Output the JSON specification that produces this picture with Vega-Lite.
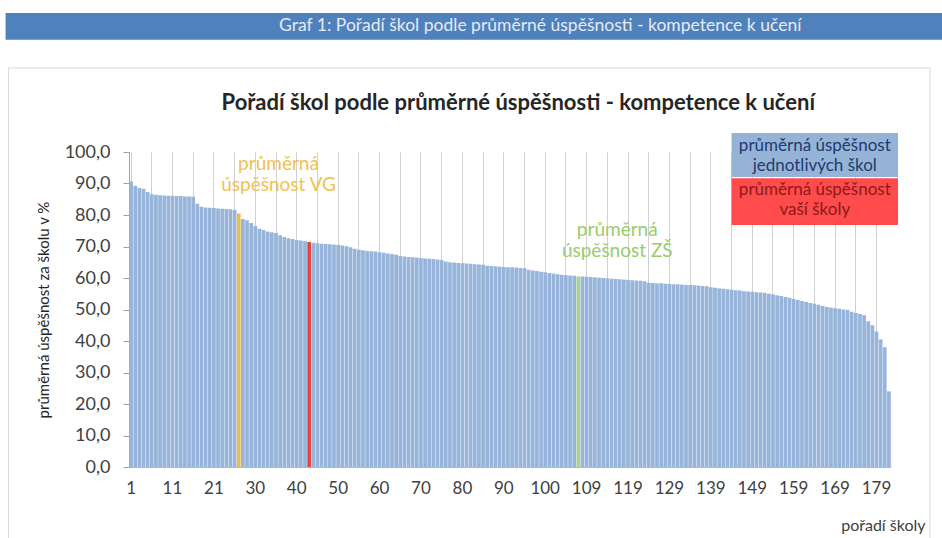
{
  "$schema": "https://vega.github.io/schema/vega-lite/v6.json",
  "width": 762,
  "height": 315,
  "autosize": {"type": "none"},
  "padding": {"left": 129, "top": 152, "right": 51, "bottom": 71},
  "background": "white",
  "config": {"view": {"stroke": null}, "font": "Lato", "text": {"font": "Lato"}},
  "datasets": {
    "skoly": [
      {"poradi": "1", "uspesnost": 90.6, "typ": "škola"},
      {"poradi": "2", "uspesnost": 89.3, "typ": "škola"},
      {"poradi": "3", "uspesnost": 88.6, "typ": "škola"},
      {"poradi": "4", "uspesnost": 88.3, "typ": "škola"},
      {"poradi": "5", "uspesnost": 87.3, "typ": "škola"},
      {"poradi": "6", "uspesnost": 86.6, "typ": "škola"},
      {"poradi": "7", "uspesnost": 86.4, "typ": "škola"},
      {"poradi": "8", "uspesnost": 86.3, "typ": "škola"},
      {"poradi": "9", "uspesnost": 86.2, "typ": "škola"},
      {"poradi": "10", "uspesnost": 86.1, "typ": "škola"},
      {"poradi": "11", "uspesnost": 86.1, "typ": "škola"},
      {"poradi": "12", "uspesnost": 86.0, "typ": "škola"},
      {"poradi": "13", "uspesnost": 86.0, "typ": "škola"},
      {"poradi": "14", "uspesnost": 85.9, "typ": "škola"},
      {"poradi": "15", "uspesnost": 85.9, "typ": "škola"},
      {"poradi": "16", "uspesnost": 85.8, "typ": "škola"},
      {"poradi": "17", "uspesnost": 83.6, "typ": "škola"},
      {"poradi": "18", "uspesnost": 82.6, "typ": "škola"},
      {"poradi": "19", "uspesnost": 82.4, "typ": "škola"},
      {"poradi": "20", "uspesnost": 82.3, "typ": "škola"},
      {"poradi": "21", "uspesnost": 82.2, "typ": "škola"},
      {"poradi": "22", "uspesnost": 82.1, "typ": "škola"},
      {"poradi": "23", "uspesnost": 82.0, "typ": "škola"},
      {"poradi": "24", "uspesnost": 81.9, "typ": "škola"},
      {"poradi": "25", "uspesnost": 81.8, "typ": "škola"},
      {"poradi": "26", "uspesnost": 81.6, "typ": "škola"},
      {"poradi": "VG", "uspesnost": 80.5, "typ": "VG"},
      {"poradi": "27", "uspesnost": 78.7, "typ": "škola"},
      {"poradi": "28", "uspesnost": 78.3, "typ": "škola"},
      {"poradi": "29", "uspesnost": 77.5, "typ": "škola"},
      {"poradi": "30", "uspesnost": 76.5, "typ": "škola"},
      {"poradi": "31", "uspesnost": 75.6, "typ": "škola"},
      {"poradi": "32", "uspesnost": 75.2, "typ": "škola"},
      {"poradi": "33", "uspesnost": 74.8, "typ": "škola"},
      {"poradi": "34", "uspesnost": 74.5, "typ": "škola"},
      {"poradi": "35", "uspesnost": 74.3, "typ": "škola"},
      {"poradi": "36", "uspesnost": 73.6, "typ": "škola"},
      {"poradi": "37", "uspesnost": 73.0, "typ": "škola"},
      {"poradi": "38", "uspesnost": 72.6, "typ": "škola"},
      {"poradi": "39", "uspesnost": 72.4, "typ": "škola"},
      {"poradi": "40", "uspesnost": 72.1, "typ": "škola"},
      {"poradi": "41", "uspesnost": 71.9, "typ": "škola"},
      {"poradi": "42", "uspesnost": 71.7, "typ": "škola"},
      {"poradi": "43", "uspesnost": 71.4, "typ": "vaše škola"},
      {"poradi": "44", "uspesnost": 71.2, "typ": "škola"},
      {"poradi": "45", "uspesnost": 71.0, "typ": "škola"},
      {"poradi": "46", "uspesnost": 70.9, "typ": "škola"},
      {"poradi": "47", "uspesnost": 70.8, "typ": "škola"},
      {"poradi": "48", "uspesnost": 70.7, "typ": "škola"},
      {"poradi": "49", "uspesnost": 70.6, "typ": "škola"},
      {"poradi": "50", "uspesnost": 70.5, "typ": "škola"},
      {"poradi": "51", "uspesnost": 70.3, "typ": "škola"},
      {"poradi": "52", "uspesnost": 70.1, "typ": "škola"},
      {"poradi": "53", "uspesnost": 69.8, "typ": "škola"},
      {"poradi": "54", "uspesnost": 69.3, "typ": "škola"},
      {"poradi": "55", "uspesnost": 69.0, "typ": "škola"},
      {"poradi": "56", "uspesnost": 68.8, "typ": "škola"},
      {"poradi": "57", "uspesnost": 68.6, "typ": "škola"},
      {"poradi": "58", "uspesnost": 68.5, "typ": "škola"},
      {"poradi": "59", "uspesnost": 68.4, "typ": "škola"},
      {"poradi": "60", "uspesnost": 68.2, "typ": "škola"},
      {"poradi": "61", "uspesnost": 68.0, "typ": "škola"},
      {"poradi": "62", "uspesnost": 67.8, "typ": "škola"},
      {"poradi": "63", "uspesnost": 67.6, "typ": "škola"},
      {"poradi": "64", "uspesnost": 67.4, "typ": "škola"},
      {"poradi": "65", "uspesnost": 67.0, "typ": "škola"},
      {"poradi": "66", "uspesnost": 66.8, "typ": "škola"},
      {"poradi": "67", "uspesnost": 66.7, "typ": "škola"},
      {"poradi": "68", "uspesnost": 66.6, "typ": "škola"},
      {"poradi": "69", "uspesnost": 66.5, "typ": "škola"},
      {"poradi": "70", "uspesnost": 66.3, "typ": "škola"},
      {"poradi": "71", "uspesnost": 66.2, "typ": "škola"},
      {"poradi": "72", "uspesnost": 66.1, "typ": "škola"},
      {"poradi": "73", "uspesnost": 66.0, "typ": "škola"},
      {"poradi": "74", "uspesnost": 65.9, "typ": "škola"},
      {"poradi": "75", "uspesnost": 65.7, "typ": "škola"},
      {"poradi": "76", "uspesnost": 65.2, "typ": "škola"},
      {"poradi": "77", "uspesnost": 65.0, "typ": "škola"},
      {"poradi": "78", "uspesnost": 64.9, "typ": "škola"},
      {"poradi": "79", "uspesnost": 64.8, "typ": "škola"},
      {"poradi": "80", "uspesnost": 64.7, "typ": "škola"},
      {"poradi": "81", "uspesnost": 64.6, "typ": "škola"},
      {"poradi": "82", "uspesnost": 64.5, "typ": "škola"},
      {"poradi": "83", "uspesnost": 64.4, "typ": "škola"},
      {"poradi": "84", "uspesnost": 64.3, "typ": "škola"},
      {"poradi": "85", "uspesnost": 64.2, "typ": "škola"},
      {"poradi": "86", "uspesnost": 63.9, "typ": "škola"},
      {"poradi": "87", "uspesnost": 63.8, "typ": "škola"},
      {"poradi": "88", "uspesnost": 63.7, "typ": "škola"},
      {"poradi": "89", "uspesnost": 63.6, "typ": "škola"},
      {"poradi": "90", "uspesnost": 63.5, "typ": "škola"},
      {"poradi": "91", "uspesnost": 63.4, "typ": "škola"},
      {"poradi": "92", "uspesnost": 63.4, "typ": "škola"},
      {"poradi": "93", "uspesnost": 63.3, "typ": "škola"},
      {"poradi": "94", "uspesnost": 63.2, "typ": "škola"},
      {"poradi": "95", "uspesnost": 63.1, "typ": "škola"},
      {"poradi": "96", "uspesnost": 62.6, "typ": "škola"},
      {"poradi": "97", "uspesnost": 62.4, "typ": "škola"},
      {"poradi": "98", "uspesnost": 62.2, "typ": "škola"},
      {"poradi": "99", "uspesnost": 62.0, "typ": "škola"},
      {"poradi": "100", "uspesnost": 61.8, "typ": "škola"},
      {"poradi": "101", "uspesnost": 61.6, "typ": "škola"},
      {"poradi": "102", "uspesnost": 61.4, "typ": "škola"},
      {"poradi": "103", "uspesnost": 61.2, "typ": "škola"},
      {"poradi": "104", "uspesnost": 61.0, "typ": "škola"},
      {"poradi": "105", "uspesnost": 60.9, "typ": "škola"},
      {"poradi": "106", "uspesnost": 60.8, "typ": "škola"},
      {"poradi": "107", "uspesnost": 60.7, "typ": "škola"},
      {"poradi": "ZŠ", "uspesnost": 60.5, "typ": "ZŠ"},
      {"poradi": "108", "uspesnost": 60.5, "typ": "škola"},
      {"poradi": "109", "uspesnost": 60.4, "typ": "škola"},
      {"poradi": "110", "uspesnost": 60.3, "typ": "škola"},
      {"poradi": "111", "uspesnost": 60.2, "typ": "škola"},
      {"poradi": "112", "uspesnost": 60.1, "typ": "škola"},
      {"poradi": "113", "uspesnost": 60.0, "typ": "škola"},
      {"poradi": "114", "uspesnost": 59.9, "typ": "škola"},
      {"poradi": "115", "uspesnost": 59.8, "typ": "škola"},
      {"poradi": "116", "uspesnost": 59.7, "typ": "škola"},
      {"poradi": "117", "uspesnost": 59.6, "typ": "škola"},
      {"poradi": "118", "uspesnost": 59.5, "typ": "škola"},
      {"poradi": "119", "uspesnost": 59.4, "typ": "škola"},
      {"poradi": "120", "uspesnost": 59.3, "typ": "škola"},
      {"poradi": "121", "uspesnost": 59.2, "typ": "škola"},
      {"poradi": "122", "uspesnost": 59.1, "typ": "škola"},
      {"poradi": "123", "uspesnost": 59.0, "typ": "škola"},
      {"poradi": "124", "uspesnost": 58.5, "typ": "škola"},
      {"poradi": "125", "uspesnost": 58.4, "typ": "škola"},
      {"poradi": "126", "uspesnost": 58.3, "typ": "škola"},
      {"poradi": "127", "uspesnost": 58.3, "typ": "škola"},
      {"poradi": "128", "uspesnost": 58.2, "typ": "škola"},
      {"poradi": "129", "uspesnost": 58.1, "typ": "škola"},
      {"poradi": "130", "uspesnost": 58.0, "typ": "škola"},
      {"poradi": "131", "uspesnost": 58.0, "typ": "škola"},
      {"poradi": "132", "uspesnost": 57.9, "typ": "škola"},
      {"poradi": "133", "uspesnost": 57.8, "typ": "škola"},
      {"poradi": "134", "uspesnost": 57.8, "typ": "škola"},
      {"poradi": "135", "uspesnost": 57.7, "typ": "škola"},
      {"poradi": "136", "uspesnost": 57.6, "typ": "škola"},
      {"poradi": "137", "uspesnost": 57.5, "typ": "škola"},
      {"poradi": "138", "uspesnost": 57.4, "typ": "škola"},
      {"poradi": "139", "uspesnost": 57.1, "typ": "škola"},
      {"poradi": "140", "uspesnost": 56.9, "typ": "škola"},
      {"poradi": "141", "uspesnost": 56.7, "typ": "škola"},
      {"poradi": "142", "uspesnost": 56.6, "typ": "škola"},
      {"poradi": "143", "uspesnost": 56.4, "typ": "škola"},
      {"poradi": "144", "uspesnost": 56.3, "typ": "škola"},
      {"poradi": "145", "uspesnost": 56.1, "typ": "škola"},
      {"poradi": "146", "uspesnost": 56.0, "typ": "škola"},
      {"poradi": "147", "uspesnost": 55.8, "typ": "škola"},
      {"poradi": "148", "uspesnost": 55.7, "typ": "škola"},
      {"poradi": "149", "uspesnost": 55.6, "typ": "škola"},
      {"poradi": "150", "uspesnost": 55.5, "typ": "škola"},
      {"poradi": "151", "uspesnost": 55.4, "typ": "škola"},
      {"poradi": "152", "uspesnost": 55.3, "typ": "škola"},
      {"poradi": "153", "uspesnost": 55.0, "typ": "škola"},
      {"poradi": "154", "uspesnost": 54.8, "typ": "škola"},
      {"poradi": "155", "uspesnost": 54.5, "typ": "škola"},
      {"poradi": "156", "uspesnost": 54.3, "typ": "škola"},
      {"poradi": "157", "uspesnost": 54.0, "typ": "škola"},
      {"poradi": "158", "uspesnost": 53.7, "typ": "škola"},
      {"poradi": "159", "uspesnost": 53.3, "typ": "škola"},
      {"poradi": "160", "uspesnost": 53.0, "typ": "škola"},
      {"poradi": "161", "uspesnost": 52.7, "typ": "škola"},
      {"poradi": "162", "uspesnost": 52.4, "typ": "škola"},
      {"poradi": "163", "uspesnost": 52.1, "typ": "škola"},
      {"poradi": "164", "uspesnost": 51.8, "typ": "škola"},
      {"poradi": "165", "uspesnost": 51.5, "typ": "škola"},
      {"poradi": "166", "uspesnost": 51.1, "typ": "škola"},
      {"poradi": "167", "uspesnost": 50.8, "typ": "škola"},
      {"poradi": "168", "uspesnost": 50.6, "typ": "škola"},
      {"poradi": "169", "uspesnost": 50.4, "typ": "škola"},
      {"poradi": "170", "uspesnost": 50.2, "typ": "škola"},
      {"poradi": "171", "uspesnost": 50.0, "typ": "škola"},
      {"poradi": "172", "uspesnost": 49.9, "typ": "škola"},
      {"poradi": "173", "uspesnost": 49.3, "typ": "škola"},
      {"poradi": "174", "uspesnost": 48.9, "typ": "škola"},
      {"poradi": "175", "uspesnost": 48.6, "typ": "škola"},
      {"poradi": "176", "uspesnost": 48.2, "typ": "škola"},
      {"poradi": "177", "uspesnost": 46.3, "typ": "škola"},
      {"poradi": "178", "uspesnost": 45.0, "typ": "škola"},
      {"poradi": "179", "uspesnost": 43.0, "typ": "škola"},
      {"poradi": "180", "uspesnost": 40.5, "typ": "škola"},
      {"poradi": "181", "uspesnost": 38.0, "typ": "škola"},
      {"poradi": "182", "uspesnost": 24.0, "typ": "škola"}
    ]
  },
  "layer": [
    {
      "data": {"values": [{}]},
      "layer": [
        {
          "mark": {"type": "rect", "fill": null, "stroke": "#D9D9D9", "strokeWidth": 1},
          "encoding": {
            "x": {"datum": -29.6, "type": "quantitative", "scale": {"domain": [-0.5, 183.5], "nice": false, "zero": false}, "axis": null},
            "x2": {"datum": 192.9},
            "y": {"datum": -30, "type": "quantitative", "scale": {"domain": [0, 100], "nice": false, "zero": false}, "axis": null},
            "y2": {"datum": 126.7}
          }
        },
        {
          "mark": {"type": "rect", "fill": "#4F81BD"},
          "encoding": {
            "x": {"datum": -30.3, "type": "quantitative", "scale": {"domain": [-0.5, 183.5], "nice": false, "zero": false}, "axis": null},
            "x2": {"datum": 196},
            "y": {"datum": 135.6, "type": "quantitative", "scale": {"domain": [0, 100], "nice": false, "zero": false}, "axis": null},
            "y2": {"datum": 144.1}
          }
        },
        {
          "mark": {"type": "text", "text": "Graf 1: Pořadí škol podle průměrné úspěšnosti - kompetence k učení", "font": "Lato", "fontSize": 17.5, "color": "#E4EBF5", "align": "center", "baseline": "middle"},
          "encoding": {
            "x": {"datum": 98.8, "type": "quantitative", "scale": {"domain": [-0.5, 183.5], "nice": false, "zero": false}, "axis": null},
            "y": {"datum": 139.9, "type": "quantitative", "scale": {"domain": [0, 100], "nice": false, "zero": false}, "axis": null}
          }
        }
      ]
    },
    {
      "data": {"name": "skoly"},
      "mark": {"type": "bar"},
      "encoding": {
        "x": {
          "field": "poradi",
          "type": "nominal",
          "sort": null,
          "scale": {"paddingInner": 0.1, "paddingOuter": 0.05},
          "axis": {
            "title": "pořadí školy",
            "values": ["1", "6", "11", "16", "21", "26", "30", "35", "40", "45", "50", "55", "60", "65", "70", "75", "80", "85", "90", "95", "100", "105", "109", "114", "119", "124", "129", "134", "139", "144", "149", "154", "159", "164", "169", "174", "179"],
            "labelExpr": "indexof(['1','11','21','30','40','50','60','70','80','90','100','109','119','129','139','149','159','169','179'], datum.value) >= 0 ? datum.value : ''",
            "labelAngle": 0,
            "labelFont": "Lato",
            "labelFontSize": 17,
            "labelColor": "#404040",
            "labelPadding": 13,
            "labelOverlap": false,
            "ticks": false,
            "grid": true,
            "gridColor": "#D0D0D0",
            "bandPosition": 0.5,
            "domainColor": "#A6BCD9",
            "titleFont": "Lato",
            "titleFontSize": 16,
            "titleFontWeight": "normal",
            "titleColor": "#404040",
            "titleAnchor": "end",
            "titleAlign": "right",
            "titleX": 796,
            "titleY": 58,
            "titleBaseline": "middle"
          }
        },
        "y": {
          "field": "uspesnost",
          "type": "quantitative",
          "scale": {"domain": [0, 100], "nice": false},
          "axis": {
            "title": "průměrná úspěšnost  za školu v %",
            "values": [0, 10, 20, 30, 40, 50, 60, 70, 80, 90, 100],
            "labelExpr": "replace(format(datum.value, '.1f'), '.', ',')",
            "labelFont": "Lato",
            "labelFontSize": 18,
            "labelColor": "#404040",
            "labelPadding": 13,
            "tickSize": 6,
            "tickColor": "#A0A0A0",
            "domainColor": "#A0A0A0",
            "gridColor": "#D9D9D9",
            "titleFont": "Lato",
            "titleFontSize": 15,
            "titleFontWeight": "normal",
            "titleColor": "#262626",
            "titlePadding": 13
          }
        },
        "color": {
          "field": "typ",
          "type": "nominal",
          "scale": {"domain": ["škola", "VG", "vaše škola", "ZŠ"], "range": ["#97B5DA", "#E8BC4E", "#E8453C", "#A9D08E"]},
          "legend": null
        }
      }
    },
    {
      "data": {"values": [{}]},
      "layer": [
        {
          "mark": {"type": "text", "text": "Pořadí škol podle průměrné úspěšnosti - kompetence k učení", "font": "Lato", "fontSize": 22, "fontWeight": "bold", "color": "#262626", "align": "center", "baseline": "middle"},
          "encoding": {
            "x": {"datum": 93.5, "type": "quantitative", "scale": {"domain": [-0.5, 183.5], "nice": false, "zero": false}, "axis": null},
            "y": {"datum": 115.6, "type": "quantitative", "scale": {"domain": [0, 100], "nice": false, "zero": false}, "axis": null}
          }
        },
        {
          "mark": {"type": "rect", "fill": "#95B3D7"},
          "encoding": {
            "x": {"datum": 145.0, "type": "quantitative", "scale": {"domain": [-0.5, 183.5], "nice": false, "zero": false}, "axis": null},
            "x2": {"datum": 185.2},
            "y": {"datum": 92.1, "type": "quantitative", "scale": {"domain": [0, 100], "nice": false, "zero": false}, "axis": null},
            "y2": {"datum": 106.0}
          }
        },
        {
          "mark": {"type": "rect", "fill": "#FF4B4B"},
          "encoding": {
            "x": {"datum": 145.0, "type": "quantitative", "scale": {"domain": [-0.5, 183.5], "nice": false, "zero": false}, "axis": null},
            "x2": {"datum": 185.2},
            "y": {"datum": 76.8, "type": "quantitative", "scale": {"domain": [0, 100], "nice": false, "zero": false}, "axis": null},
            "y2": {"datum": 91.7}
          }
        },
        {
          "mark": {"type": "text", "text": ["průměrná úspěšnost", "jednotlivých škol"], "font": "Lato", "fontSize": 17, "lineHeight": 20, "color": "#1F3B6E", "align": "center", "baseline": "middle"},
          "encoding": {
            "x": {"datum": 165.1, "type": "quantitative", "scale": {"domain": [-0.5, 183.5], "nice": false, "zero": false}, "axis": null},
            "y": {"datum": 101.9, "type": "quantitative", "scale": {"domain": [0, 100], "nice": false, "zero": false}, "axis": null}
          }
        },
        {
          "mark": {"type": "text", "text": ["průměrná úspěšnost", "vaší školy"], "font": "Lato", "fontSize": 17, "lineHeight": 20, "color": "#8B1A1A", "align": "center", "baseline": "middle"},
          "encoding": {
            "x": {"datum": 165.1, "type": "quantitative", "scale": {"domain": [-0.5, 183.5], "nice": false, "zero": false}, "axis": null},
            "y": {"datum": 87.9, "type": "quantitative", "scale": {"domain": [0, 100], "nice": false, "zero": false}, "axis": null}
          }
        },
        {
          "mark": {"type": "text", "text": ["průměrná", "úspěšnost VG"], "font": "Lato", "fontSize": 19, "lineHeight": 21, "color": "#F2C14E", "align": "center", "baseline": "middle"},
          "encoding": {
            "x": {"datum": 35.6, "type": "quantitative", "scale": {"domain": [-0.5, 183.5], "nice": false, "zero": false}, "axis": null},
            "y": {"datum": 96.2, "type": "quantitative", "scale": {"domain": [0, 100], "nice": false, "zero": false}, "axis": null}
          }
        },
        {
          "mark": {"type": "text", "text": ["průměrná", "úspěšnost ZŠ"], "font": "Lato", "fontSize": 19, "lineHeight": 21, "color": "#9BCB6C", "align": "center", "baseline": "middle"},
          "encoding": {
            "x": {"datum": 117.4, "type": "quantitative", "scale": {"domain": [-0.5, 183.5], "nice": false, "zero": false}, "axis": null},
            "y": {"datum": 75.2, "type": "quantitative", "scale": {"domain": [0, 100], "nice": false, "zero": false}, "axis": null}
          }
        }
      ]
    }
  ],
  "resolve": {"scale": {"x": "independent", "y": "independent"}}
}
